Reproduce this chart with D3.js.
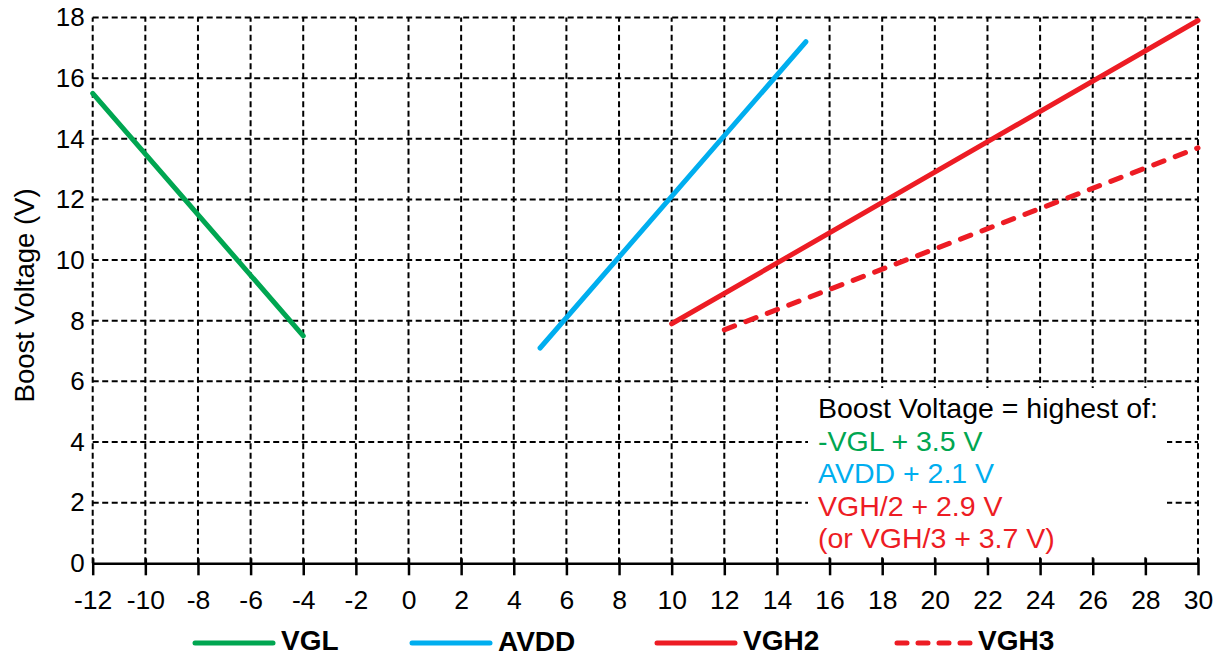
<!DOCTYPE html>
<html>
<head>
<meta charset="utf-8">
<script src="https://cdn.jsdelivr.net/npm/d3@7"></script>
<style>
  html, body { margin: 0; padding: 0; background: #fff; }
  svg { display: block; font-family: "Liberation Sans", Arial, sans-serif; }
</style>
</head>
<body>
<svg id="chart" width="1220" height="657"></svg>
<script>
// ---- data ----
const xTicks = [-12,-10,-8,-6,-4,-2,0,2,4,6,8,10,12,14,16,18,20,22,24,26,28,30];
const yTicks = [0,2,4,6,8,10,12,14,16,18];
const vglX = [-12, -4];
const vglY = [15.5, 7.5];
const avddX = [5, 15.1];
const avddY = [7.1, 17.2];
const vgh2X = [10, 30];
const vgh2Y = [7.9, 17.9];
const vgh3X = [12, 30];
const vgh3Y = [7.7, 13.7];
const seriesNames = ["VGL", "AVDD", "VGH2", "VGH3"];
const seriesColors = ["#00a651", "#00aeef", "#ed1c24", "#ed1c24"];
const noteLines = ["Boost Voltage = highest of:", "-VGL + 3.5 V", "AVDD + 2.1 V", "VGH/2 + 2.9 V", "(or VGH/3 + 3.7 V)"];
const noteColors = ["#000000", "#00a651", "#00aeef", "#ed1c24", "#ed1c24"];

// ---- layout ----
const svg = d3.select("#chart");
const x = d3.scaleLinear().domain([-12, 30]).range([92.7, 1198]);
const y = d3.scaleLinear().domain([0, 18]).range([563.3, 17.5]);

const grid = svg.append("g");
grid.selectAll("line.v").data(xTicks).enter().append("line")
  .attr("x1", d => x(d)).attr("x2", d => x(d))
  .attr("y1", y(0)).attr("y2", y(18))
  .attr("stroke", "#000").attr("stroke-width", 2)
  .attr("stroke-dasharray", "6,3.5");
grid.selectAll("line.h").data(yTicks.filter(d => d > 0)).enter().append("line")
  .attr("x1", x(-12)).attr("x2", x(30))
  .attr("y1", d => y(d)).attr("y2", d => y(d))
  .attr("stroke", "#000").attr("stroke-width", 2)
  .attr("stroke-dasharray", "6,3.5");

// annotation background box
svg.append("rect")
  .attr("x", 808).attr("y", 388).attr("width", 359).attr("height", 168)
  .attr("fill", "#fff");

// bottom axis
const xAxis = d3.axisBottom(x).tickValues(xTicks).tickFormat(d => String(d))
  .tickSize(12).tickPadding(15).tickSizeOuter(0);
const gx = svg.append("g").attr("transform", `translate(0,${y(0)})`).call(xAxis);
gx.select(".domain").attr("stroke", "#000").attr("stroke-width", 2.5);
gx.selectAll(".tick line").attr("stroke", "#000").attr("stroke-width", 2.5).attr("y1", -5);
gx.selectAll(".tick text").attr("font-size", 26.5).attr("fill", "#000")
  .attr("font-family", "Liberation Sans, Arial, sans-serif").attr("dy", "0.71em");

// left axis labels
const yAxis = d3.axisLeft(y).tickValues(yTicks).tickFormat(d => String(d)).tickSize(0).tickPadding(8);
const gy = svg.append("g").attr("transform", `translate(${x(-12)},0)`).call(yAxis);
gy.select(".domain").remove();
gy.selectAll(".tick text").attr("font-size", 26).attr("fill", "#000")
  .attr("font-family", "Liberation Sans, Arial, sans-serif");

// y axis title
svg.append("text")
  .attr("transform", `translate(34,${(y(0)+y(18))/2 + 5}) rotate(-90)`)
  .attr("text-anchor", "middle")
  .attr("font-size", 27.5).attr("fill", "#000")
  .text("Boost Voltage (V)");

// series lines
const line = d3.line().x(d => x(d[0])).y(d => y(d[1]));
const series = [
  d3.zip(vglX, vglY),
  d3.zip(avddX, avddY),
  d3.zip(vgh2X, vgh2Y),
  d3.zip(vgh3X, vgh3Y)
];
series.forEach((pts, i) => {
  svg.append("path").datum(pts)
    .attr("d", line)
    .attr("fill", "none")
    .attr("stroke", seriesColors[i])
    .attr("stroke-width", 5)
    .attr("stroke-linecap", "round")
    .attr("stroke-dasharray", i === 3 ? "11,12" : null);
});

// annotation text
svg.append("g").selectAll("text").data(noteLines).enter().append("text")
  .attr("x", 818)
  .attr("y", (d, i) => 418 + i * 32.5)
  .attr("font-size", 28.5)
  .attr("fill", (d, i) => noteColors[i])
  .text(d => d);

// legend
const legX = [195, 412, 657, 897];
const legTextX = [281, 498, 743, 978];
const legG = svg.append("g");
seriesNames.forEach((name, i) => {
  legG.append("line")
    .attr("x1", legX[i]).attr("x2", legX[i] + 78)
    .attr("y1", 643).attr("y2", 643)
    .attr("stroke", seriesColors[i]).attr("stroke-width", 5)
    .attr("stroke-linecap", "round")
    .attr("stroke-dasharray", i === 3 ? "10,11" : null);
  legG.append("text")
    .attr("x", legTextX[i]).attr("y", i === 1 ? 651 : 650)
    .attr("font-size", 28).attr("font-weight", "bold").attr("fill", "#000")
    .text(name);
});
</script>
</body>
</html>
